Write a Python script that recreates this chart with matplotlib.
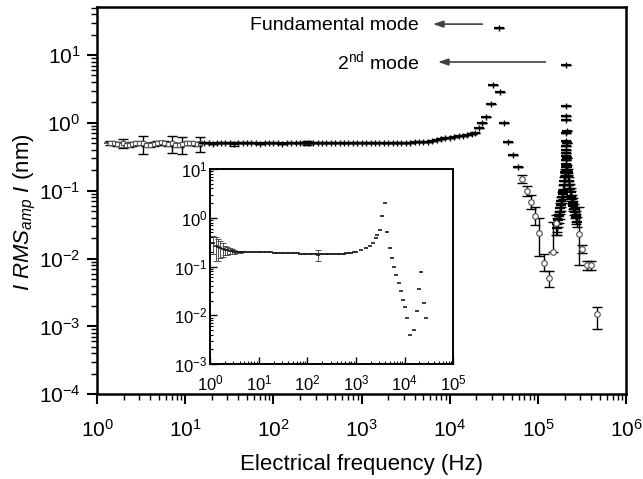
import matplotlib
matplotlib.use("Agg")
import matplotlib.pyplot as plt
import numpy as np
from matplotlib.ticker import LogLocator, NullFormatter, FixedLocator, LogFormatterSciNotation

plt.rcParams['font.family'] = ['Liberation Sans', 'DejaVu Sans']
plt.rcParams['mathtext.fontset'] = 'custom'
plt.rcParams['mathtext.rm'] = 'Liberation Sans'
plt.rcParams['mathtext.it'] = 'Liberation Sans:italic'
plt.rcParams['mathtext.bf'] = 'Liberation Sans:bold'
plt.rcParams['axes.unicode_minus'] = False

# ---------------- tick values ----------------
main_xticks = [1e0, 1e1, 1e2, 1e3, 1e4, 1e5, 1e6]
main_yticks = [1e-4, 1e-3, 1e-2, 1e-1, 1e0, 1e1]
inset_xticks = [1e0, 1e1, 1e2, 1e3, 1e4, 1e5]
inset_yticks = [1e-3, 1e-2, 1e-1, 1e0, 1e1]

# ---------------- main plot data ----------------
# low-frequency points (open squares with error bars)
low_freq = [1.4, 1.55, 1.7, 1.85, 1.97, 2.1, 2.3, 2.5, 2.7, 3.0, 3.3, 3.6, 4.0, 4.4,
            4.8, 5.3, 5.8, 6.4, 7.1, 7.7, 8.4, 9.2, 10.1, 11.1, 12.2, 13.4, 14.7]
low_amp = [0.51, 0.50, 0.49, 0.48, 0.50, 0.48, 0.47, 0.49, 0.50, 0.51, 0.50, 0.48, 0.47, 0.49,
           0.51, 0.52, 0.51, 0.49, 0.50, 0.48, 0.47, 0.49, 0.50, 0.51, 0.50, 0.49, 0.50]
low_err = [0.03, 0.03, 0.03, 0.03, 0.075, 0.03, 0.03, 0.03, 0.03, 0.03, 0.15, 0.03, 0.03, 0.03,
           0.03, 0.03, 0.03, 0.03, 0.14, 0.03, 0.03, 0.14, 0.03, 0.03, 0.03, 0.03, 0.13]

# flat + fundamental resonance (plus-type markers)
mid_freq = [16.5, 18.5, 20.5, 23, 25.5, 28.5, 32, 36, 40, 45, 50, 56, 63, 71, 80, 90, 100,
            112, 126, 141, 158, 178, 200, 224, 240, 251, 282, 316, 355, 398, 447, 501, 562,
            631, 708, 794, 891, 1000, 1120, 1260, 1410, 1580, 1780, 2000, 2240, 2510, 2820,
            3160, 3550, 3980, 4470, 5010, 5620, 6310, 7080, 7940, 8910, 10000, 11200, 12600,
            14100, 15800, 17800, 19500, 21400, 23400, 25700, 29500, 31000, 36300, 37000,
            40700, 45700, 51300, 58900]
mid_amp = [0.50, 0.51, 0.49, 0.50, 0.50, 0.51, 0.50, 0.49, 0.50, 0.50, 0.51, 0.50, 0.50, 0.49,
           0.50, 0.50, 0.50, 0.50, 0.49, 0.50, 0.50, 0.50, 0.50, 0.50, 0.51, 0.50, 0.50, 0.50,
           0.50, 0.50, 0.50, 0.50, 0.50, 0.50, 0.50, 0.50, 0.50, 0.50, 0.50, 0.51, 0.51, 0.51,
           0.51, 0.51, 0.51, 0.51, 0.51, 0.51, 0.51, 0.52, 0.52, 0.53, 0.53, 0.54, 0.56, 0.57,
           0.59, 0.60, 0.62, 0.64, 0.65, 0.66, 0.68, 0.71, 0.85, 1.0, 1.22, 1.9, 3.6, 25.0,
           2.9, 1.0, 0.52, 0.34, 0.22]
mid_err = [0.0] * 7 + [0.03] + [0.0] * 16 + [0.03] + [0.0] * 50

# descending flank of fundamental (open circles with error bars)
desc_freq = [66100, 74100, 83200, 93300, 102000, 117000, 132000, 148000]
desc_amp = [0.150, 0.100, 0.068, 0.043, 0.024, 0.0087, 0.0052, 0.0123]
desc_lo = [0.022, 0.015, 0.015, 0.012, 0.013, 0.0022, 0.0014, 0.0]
desc_hi = [0.022, 0.017, 0.018, 0.014, 0.016, 0.0028, 0.0014, 0.022]

# second mode cluster (plus-type markers)
m2_freq = [209000, 208000, 209500, 208500, 210000, 209000, 208000, 210000, 209000, 208500,
           209500, 208000, 210000, 209000, 208500,
           205000, 203000, 200000, 198000, 195000, 192000, 190000, 187000, 184000, 181000,
           178000, 175000, 172000, 169000, 166000, 162000,
           213000, 216000, 219000, 222000, 226000, 230000, 234000, 238000, 242000, 247000,
           252000, 257000, 262000, 267000, 272000, 277000]
m2_amp = [7.1, 1.8, 1.25, 1.1, 0.75, 0.72, 0.55, 0.50, 0.45, 0.40, 0.36, 0.32, 0.30, 0.28, 0.25,
          0.22, 0.19, 0.16, 0.14, 0.12, 0.10, 0.09, 0.08, 0.07, 0.062, 0.055, 0.048, 0.042,
          0.037, 0.032, 0.028,
          0.22, 0.19, 0.16, 0.14, 0.12, 0.105, 0.095, 0.085, 0.075, 0.066, 0.06, 0.054, 0.048,
          0.043, 0.039, 0.035]
m2_err = [0.0] * 15 + [0.02, 0.02, 0.02, 0.02, 0.02, 0.02, 0.015, 0.015, 0.012, 0.012,
                       0.01, 0.01, 0.009, 0.008, 0.007, 0.006] \
         + [0.02, 0.02, 0.02, 0.02, 0.02, 0.02, 0.015, 0.015, 0.012, 0.012, 0.01, 0.01,
            0.009, 0.008, 0.007, 0.006]

# tail of second mode (open circles with error bars)
tail_freq = [158000, 288000, 316000, 355000, 398000, 468000]
tail_amp = [0.034, 0.023, 0.014, 0.0080, 0.0080, 0.0015]
tail_lo = [0.012, 0.015, 0.002, 0.0012, 0.0012, 0.0006]
tail_hi = [0.010, 0.035, 0.002, 0.0012, 0.0012, 0.0004]

# ---------------- inset data ----------------
in_low_freq = [1.15, 1.3, 1.45, 1.6, 1.8, 2.0, 2.25, 2.5, 2.8, 3.15, 3.5, 4.0, 4.5]
in_low_amp = [0.30, 0.27, 0.25, 0.24, 0.23, 0.22, 0.215, 0.21, 0.205, 0.20, 0.20, 0.20, 0.20]
in_low_err = [0.12, 0.14, 0.12, 0.09, 0.07, 0.05, 0.04, 0.03, 0.02, 0.015, 0.01, 0.006, 0.004]

in_flat_freq = [5.0, 5.6, 6.3, 7.1, 8.0, 9.0, 10, 11.2, 12.6, 14.1,
                15.8, 17.8, 20, 22.4, 25.1, 28.2, 31.6, 35.5, 39.8, 44.7,
                50.1, 56.2, 63.1, 70.8, 79.4, 89.1, 100, 112, 126, 141,
                158, 178, 200, 224, 251, 282, 316, 355, 398, 447,
                501, 562, 631, 708, 794, 891, 1000, 1260, 1580, 1900]
in_flat_amp = [0.20, 0.20, 0.20, 0.20, 0.20, 0.20, 0.20, 0.20, 0.198, 0.197,
               0.196, 0.195, 0.194, 0.193, 0.192, 0.191, 0.19, 0.19, 0.189, 0.188,
               0.187, 0.186, 0.186, 0.185, 0.185, 0.184, 0.184, 0.183, 0.183, 0.182,
               0.182, 0.181, 0.181, 0.18, 0.18, 0.18, 0.18, 0.181, 0.182, 0.183,
               0.184, 0.185, 0.187, 0.189, 0.192, 0.196, 0.20, 0.22, 0.24, 0.27]

in_peak_freq = [2190, 2510, 2690, 3160, 3470, 3980, 4370, 4900, 5370, 5890, 6760, 7760,
                8510, 9330, 10200, 11200, 12600, 15800, 18200, 20000, 21900, 25100, 27500]
in_peak_amp = [0.31, 0.38, 0.45, 0.55, 1.1, 2.0, 0.51, 0.24, 0.148, 0.10, 0.068, 0.047,
               0.032, 0.021, 0.0148, 0.0087, 0.0040, 0.0050, 0.0123, 0.035, 0.078, 0.018,
               0.0087]

in_eb_freq = [166]
in_eb_amp = [0.175]
in_eb_err = [0.045]

# ---------------- figure ----------------
fig = plt.figure(figsize=(6.43, 4.79), dpi=100)
ax = fig.add_axes([0.151, 0.177, 0.823, 0.808])
ax.set_xscale('log')
ax.set_yscale('log')

ekw = dict(fmt='none', ecolor='k', elinewidth=1.0, capsize=3.5, capthick=1.0)

ax.errorbar(low_freq, low_amp, yerr=low_err, **ekw)
ax.plot(low_freq, low_amp, ls='none', marker='_', ms=8, mew=1.2, color='0.25')
ax.plot(low_freq, low_amp, ls='none', marker='s', ms=3.5, mfc='white', mec='0.35', mew=0.8)

ax.errorbar(mid_freq, mid_amp, yerr=mid_err, **ekw)
ax.plot(mid_freq, mid_amp, ls='none', marker='_', ms=7, mew=1.6, color='k')
ax.plot(mid_freq, mid_amp, ls='none', marker='|', ms=4, mew=1.0, color='k')

ax.errorbar(desc_freq, desc_amp, yerr=[desc_lo, desc_hi], **ekw)
ax.plot(desc_freq, desc_amp, ls='none', marker='o', ms=4, mfc='white', mec='0.3', mew=0.8)

ax.errorbar(m2_freq, m2_amp, yerr=m2_err, **ekw)
ax.plot(m2_freq, m2_amp, ls='none', marker='_', ms=7, mew=1.6, color='k')
ax.plot(m2_freq, m2_amp, ls='none', marker='|', ms=4, mew=1.0, color='k')

ax.errorbar(tail_freq, tail_amp, yerr=[tail_lo, tail_hi], **ekw)
ax.plot(tail_freq, tail_amp, ls='none', marker='o', ms=4, mfc='white', mec='0.3', mew=0.8)

ax.xaxis.set_major_locator(FixedLocator(main_xticks))
ax.yaxis.set_major_locator(FixedLocator(main_yticks))
ax.xaxis.set_major_formatter(LogFormatterSciNotation())
ax.yaxis.set_major_formatter(LogFormatterSciNotation())
ax.xaxis.set_minor_locator(LogLocator(base=10, subs=np.arange(2, 10), numticks=20))
ax.yaxis.set_minor_locator(LogLocator(base=10, subs=np.arange(2, 10), numticks=20))
ax.xaxis.set_minor_formatter(NullFormatter())
ax.yaxis.set_minor_formatter(NullFormatter())
ax.set_xlim(1, 1e6)
ax.set_ylim(1e-4, 50.8)

for s in ax.spines.values():
    s.set_linewidth(1.8)
ax.tick_params(which='both', direction='out', top=False, right=False, labelsize=15,
               width=1.5)
ax.tick_params(axis='x', pad=11)
ax.tick_params(axis='y', pad=5)
ax.tick_params(which='major', length=7)
ax.tick_params(which='minor', length=4, width=1.0)

ax.set_xlabel('Electrical frequency (Hz)', fontsize=16, labelpad=9)
ax.set_ylabel(r'$I\ RMS_{amp}\ I$ (nm)', fontsize=16)
ax.yaxis.set_label_coords(-0.112, 0.47)

# annotations
ax.text(4470, 27.7, 'Fundamental mode', fontsize=14, ha='right', va='center')
ax.annotate('', xy=(5970, 28.6), xytext=(25100, 28.6),
            arrowprops=dict(arrowstyle='-|>,head_length=0.6,head_width=0.2',
                            color='0.25', lw=1.2))
ax.text(4470, 8.1, r'2$^{\mathrm{nd}}$ mode', fontsize=14, ha='right', va='center')
ax.annotate('', xy=(6800, 7.9), xytext=(130000, 7.9),
            arrowprops=dict(arrowstyle='-|>,head_length=0.6,head_width=0.2',
                            color='0.25', lw=1.2))

# inset
axi = fig.add_axes([0.327, 0.240, 0.378, 0.407])
axi.set_xscale('log')
axi.set_yscale('log')
iekw = dict(fmt='none', ecolor='0.3', elinewidth=0.7, capsize=2, capthick=0.7)
axi.errorbar(in_low_freq, in_low_amp, yerr=in_low_err, **iekw)
axi.errorbar(in_eb_freq, in_eb_amp, yerr=in_eb_err, **iekw)
for fx, fy in [(in_low_freq, in_low_amp), (in_flat_freq, in_flat_amp),
               (in_peak_freq, in_peak_amp), (in_eb_freq, in_eb_amp)]:
    axi.plot(fx, fy, ls='none', marker='_', ms=3.5, mew=1.2, color='0.1')
for s in axi.spines.values():
    s.set_linewidth(1.4)
axi.xaxis.set_major_locator(FixedLocator(inset_xticks))
axi.yaxis.set_major_locator(FixedLocator(inset_yticks))
axi.xaxis.set_major_formatter(LogFormatterSciNotation())
axi.yaxis.set_major_formatter(LogFormatterSciNotation())
axi.xaxis.set_minor_locator(LogLocator(base=10, subs=np.arange(2, 10), numticks=20))
axi.yaxis.set_minor_locator(LogLocator(base=10, subs=np.arange(2, 10), numticks=20))
axi.xaxis.set_minor_formatter(NullFormatter())
axi.yaxis.set_minor_formatter(NullFormatter())
axi.set_xlim(1, 1e5)
axi.set_ylim(1e-3, 10)
axi.tick_params(which='both', direction='in', top=False, right=False, labelsize=12,
                width=1.0)
axi.tick_params(axis='x', pad=7)
axi.tick_params(axis='y', pad=2)
axi.tick_params(which='major', length=5)
axi.tick_params(which='minor', length=2.5, width=0.8)

fig.savefig('out.png', dpi=100)
